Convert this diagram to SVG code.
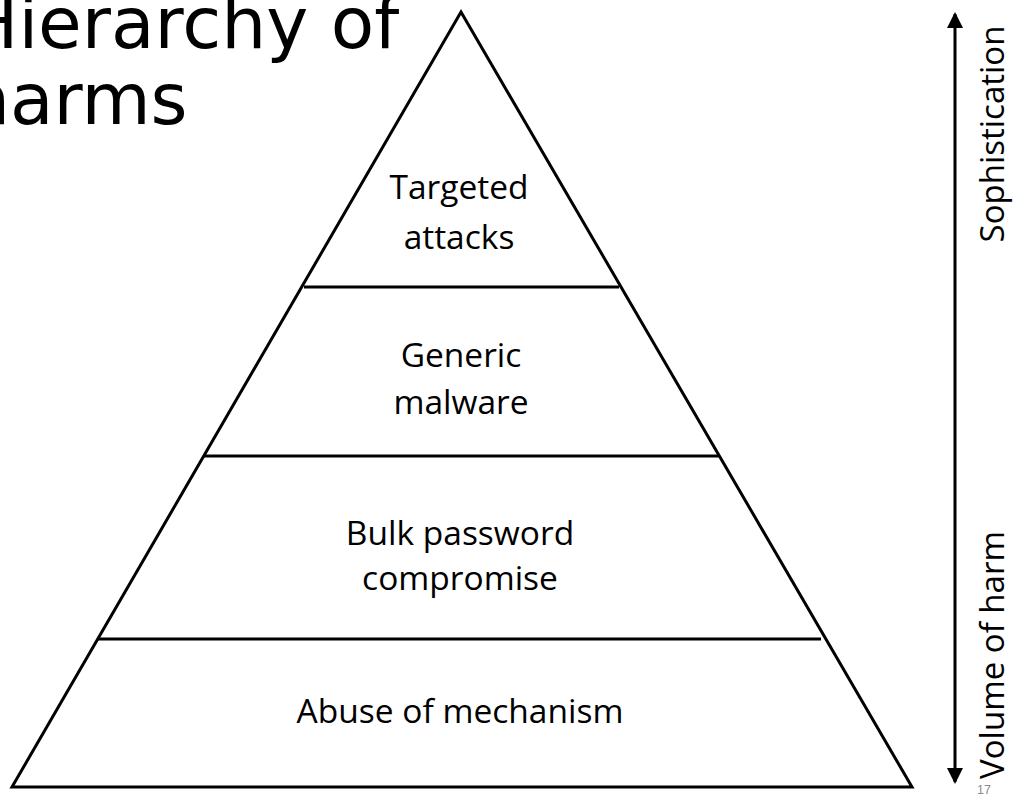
<svg xmlns="http://www.w3.org/2000/svg" width="1015" height="794" viewBox="0 0 1015 794">
  <defs>
    <style>
      .title { font-family: "DejaVu Sans", sans-serif; font-size: 71px; fill: #000; }
      .label { font-family: "Open Sans", "Noto Sans", sans-serif; font-size: 33.5px; fill: #000; text-anchor: middle; }
      .axis { font-family: "Open Sans", "Noto Sans", sans-serif; font-size: 33px; fill: #000; text-anchor: middle; }
      .outline { fill: none; stroke: #000; stroke-width: 3; stroke-linejoin: miter; }
      .divider { stroke: #000; stroke-width: 3; }
      .arrow { stroke: #000; stroke-width: 3; fill: none; }
      .pageno { font-family: "Liberation Sans", sans-serif; font-size: 12.5px; fill: #8c8c8c; }
    </style>
    <marker id="head" viewBox="0 0 16 16" refX="14" refY="8" markerWidth="16" markerHeight="16" markerUnits="userSpaceOnUse" orient="auto-start-reverse">
      <path d="M0,0 L16,8 L0,16 Z" fill="#000"/>
    </marker>
  </defs>

  <rect width="1015" height="794" fill="#fff"/>

  <!-- slide title -->
  <g id="title">
    <text class="title" x="-35" y="48">Hierarchy of</text>
    <text class="title" x="-35" y="124">harms</text>
  </g>

  <!-- pyramid outline -->
  <g id="pyramid">
    <polygon class="outline" points="461,12 12,787 912,787"/>
  </g>

  <!-- tiers, top to bottom -->
  <g id="tier-targeted">
    <text class="label" x="459" y="199">Targeted</text>
    <text class="label" x="459" y="249">attacks</text>
    <line class="divider" x1="304" y1="287" x2="619" y2="287"/>
  </g>
  <g id="tier-malware">
    <text class="label" x="461" y="367">Generic</text>
    <text class="label" x="461" y="414">malware</text>
    <line class="divider" x1="203" y1="456" x2="720" y2="456"/>
  </g>
  <g id="tier-password">
    <text class="label" x="460" y="545">Bulk password</text>
    <text class="label" x="460" y="590">compromise</text>
    <line class="divider" x1="98" y1="639" x2="821" y2="639"/>
  </g>
  <g id="tier-abuse">
    <text class="label" x="460" y="723">Abuse of mechanism</text>
  </g>

  <!-- double-headed scale arrow -->
  <g id="connectors">
    <line class="arrow" x1="955" y1="14" x2="955" y2="782" marker-start="url(#head)" marker-end="url(#head)"/>
  </g>

  <g id="axis-labels">
    <text class="axis" transform="translate(1004,134) rotate(-90)">Sophistication</text>
    <text class="axis" transform="translate(1004,655) rotate(-90)">Volume of harm</text>
  </g>

  <text class="pageno" x="977" y="794">17</text>
</svg>
